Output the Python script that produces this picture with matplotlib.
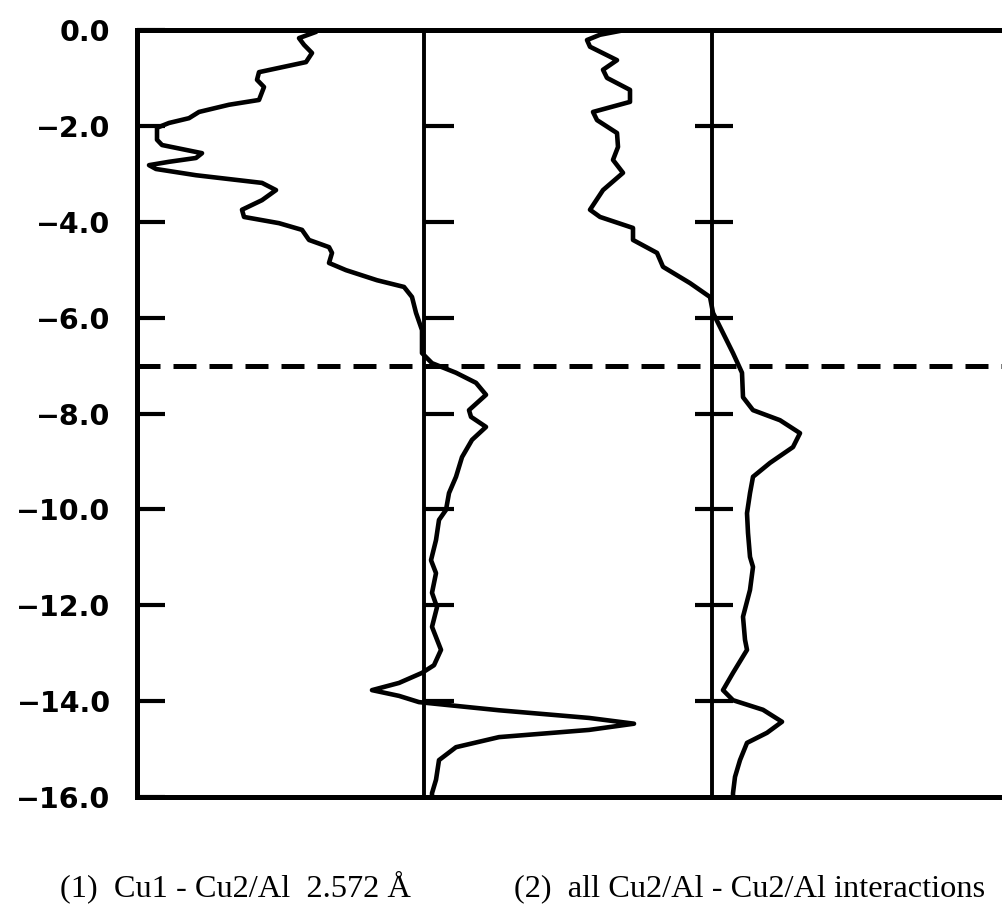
import matplotlib.pyplot as plt

# depth (y) and intensity offsets for curve (1): Cu1 - Cu2/Al 2.572 A
y1 = [0.00, -0.04, -0.17, -0.31, -0.48, -0.67, -0.88, -1.04, -1.19, -1.46,
      -1.56, -1.71, -1.84, -1.94, -2.04, -2.29, -2.40, -2.57, -2.67, -2.75,
      -2.82, -2.90, -3.03, -3.19, -3.34, -3.55, -3.75, -3.90, -4.03, -4.17,
      -4.38, -4.53, -4.65, -4.86, -5.01, -5.22, -5.36, -5.57, -5.90, -6.26,
      -6.74, -6.95, -7.15, -7.36, -7.61, -7.93, -8.07, -8.28, -8.55, -8.91,
      -9.32, -9.66, -10.01, -10.22, -10.64, -11.06, -11.33, -11.74, -12.04, -12.45,
      -12.93, -13.25, -13.41, -13.62, -13.77, -13.89, -14.02, -14.19, -14.35, -14.47,
      -14.60, -14.75, -14.96, -15.23, -15.64, -15.92, -16.00]
g1 = [-1.07, -1.08, -1.25, -1.20, -1.12, -1.18, -1.65, -1.67, -1.60, -1.65,
      -1.95, -2.25, -2.35, -2.55, -2.67, -2.67, -2.62, -2.22, -2.28, -2.55,
      -2.75, -2.68, -2.28, -1.62, -1.48, -1.62, -1.82, -1.80, -1.45, -1.22,
      -1.15, -0.95, -0.92, -0.95, -0.78, -0.47, -0.20, -0.12, -0.08, -0.02,
      -0.02, 0.08, 0.32, 0.52, 0.62, 0.45, 0.47, 0.62, 0.48, 0.38,
      0.32, 0.25, 0.22, 0.15, 0.12, 0.07, 0.12, 0.08, 0.13, 0.08,
      0.17, 0.10, -0.02, -0.25, -0.52, -0.25, -0.05, 0.75, 1.65, 2.10,
      1.65, 0.75, 0.32, 0.15, 0.12, 0.08, 0.08]

# curve (2): all Cu2/Al - Cu2/Al interactions
y2 = [0.00, -0.10, -0.21, -0.35, -0.63, -0.83, -1.00, -1.25, -1.50, -1.71,
      -1.88, -2.15, -2.44, -2.71, -2.98, -3.34, -3.75, -3.90, -4.13, -4.38,
      -4.65, -4.94, -5.28, -5.57, -5.90, -6.32, -6.74, -7.15, -7.66, -7.93,
      -8.14, -8.41, -8.70, -9.03, -9.32, -9.66, -10.08, -10.49, -10.99, -11.20,
      -11.68, -12.24, -12.72, -12.93, -13.41, -13.77, -13.98, -14.18, -14.43, -14.66,
      -14.87, -15.23, -15.58, -15.92, -16.00]
g2 = [-0.87, -1.12, -1.25, -1.22, -0.95, -1.09, -1.05, -0.82, -0.82, -1.19,
      -1.15, -0.95, -0.94, -0.99, -0.89, -1.09, -1.22, -1.12, -0.79, -0.79,
      -0.55, -0.49, -0.22, -0.02, 0.01, 0.11, 0.21, 0.30, 0.31, 0.41,
      0.68, 0.88, 0.81, 0.58, 0.41, 0.38, 0.35, 0.36, 0.38, 0.41,
      0.38, 0.31, 0.33, 0.35, 0.21, 0.11, 0.21, 0.51, 0.70, 0.55,
      0.35, 0.28, 0.23, 0.21, 0.21]

yticks = [0, -2, -4, -6, -8, -10, -12, -14, -16]
ylabels = ['0.0', '\u22122.0', '\u22124.0', '\u22126.0', '\u22128.0',
           '\u221210.0', '\u221212.0', '\u221214.0', '\u221216.0']
cut_depth = -7.0
captions = ['(1)  Cu1 - Cu2/Al  2.572 \u00c5', '(2)  all Cu2/Al - Cu2/Al interactions']

# zero positions of the two panels along x
zero1, zero2 = 4.24, 7.12

fig = plt.figure(figsize=(10.03, 9.08), dpi=100)
ax = fig.add_axes([0.1366, 0.1222, 0.8634, 0.8448])

lw = 3.3
ax.plot([zero1 + v for v in g1], y1, color='black', lw=lw,
        solid_capstyle='round', solid_joinstyle='round')
ax.plot([zero2 + v for v in g2], y2, color='black', lw=lw,
        solid_capstyle='round', solid_joinstyle='round')

# zero lines with their own tick marks
ax.axvline(zero1, color='black', lw=2.8)
ax.axvline(zero2, color='black', lw=2.8)
ax.hlines(yticks[1:-1], zero1, zero1 + 0.30, color='black', lw=3)
ax.hlines(yticks[1:-1], zero2 - 0.17, zero2 + 0.21, color='black', lw=3)

ax.axhline(cut_depth, color='black', lw=3.6, linestyle=(0, (4.6, 2.6)))

ax.set_xlim(1.37, 10.03)
ax.set_ylim(-16, 0)
ax.set_xticks([])
ax.set_yticks(yticks)
ax.set_yticklabels(ylabels, fontsize=20.5, fontweight='bold', family='DejaVu Sans')
ax.tick_params(axis='y', direction='in', length=20, width=3, pad=19)

ax.spines['right'].set_visible(False)
for s in ['left', 'top', 'bottom']:
    ax.spines[s].set_linewidth(3.6)

fig.text(0.060, 0.013, captions[0], fontsize=23.3, family='Liberation Serif', va='baseline')
fig.text(0.512, 0.013, captions[1], fontsize=23.3, family='Liberation Serif', va='baseline')

fig.savefig('out.png', dpi=100)
